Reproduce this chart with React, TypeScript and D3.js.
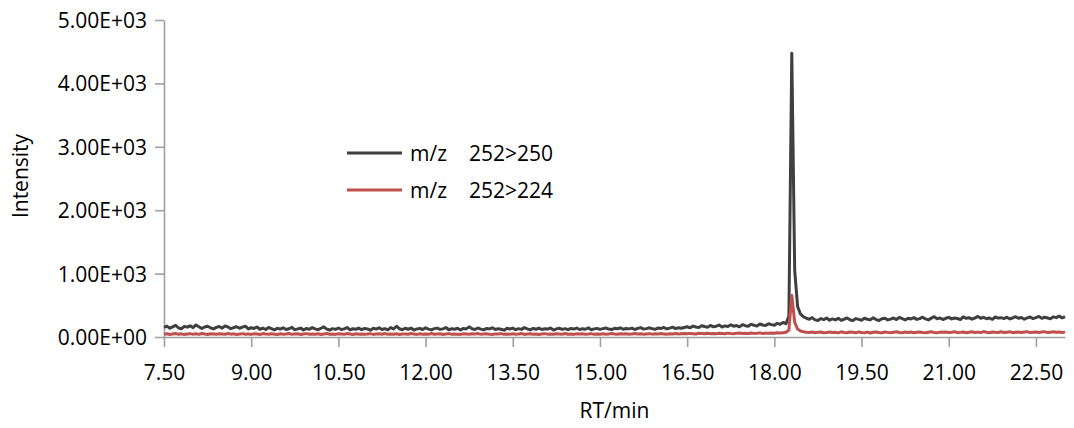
import * as d3 from 'd3'
import { useEffect, useRef } from 'react'

// retention time sampling: 7.50 .. 23.00 min, every 0.05 min
const rtStart = 7.5
const rtStep = 0.05

// m/z 252>250
const seriesA = [
  150,172,138,160,185,142,130,168,155,176,
  148,190,162,135,158,170,145,128,152,166,
  140,175,158,132,149,162,138,155,170,128,
  146,135,158,122,140,118,150,132,112,138,
  125,145,118,130,152,115,128,140,110,135,
  122,148,128,115,138,160,125,110,132,120,
  142,118,128,150,112,130,122,140,115,135,
  128,108,138,125,145,118,132,112,148,126,
  170,130,115,138,122,140,110,128,135,118,
  145,125,112,132,140,120,128,150,115,130,
  122,138,110,135,128,160,130,118,142,125,
  112,135,128,145,118,130,122,108,138,126,
  140,115,132,120,148,128,112,135,122,140,
  118,130,125,142,110,128,138,120,132,115,
  135,125,140,118,130,122,145,115,128,136,
  120,132,142,125,118,138,130,145,122,135,
  128,140,118,136,148,125,132,145,130,122,
  142,135,150,128,140,155,132,146,138,150,
  162,145,172,158,150,178,165,155,182,160,
  170,188,158,175,165,192,170,180,160,195,
  178,168,200,185,172,205,190,180,210,195,
  185,215,200,230,210,
  330,4475,1050,480,360,320,
  295,280,305,270,260,290,275,300,265,
  285,270,295,262,280,300,272,258,290,278,
  265,295,280,270,302,275,260,288,296,270,
  282,300,275,310,290,268,295,285,305,278,
  290,312,285,270,298,320,288,300,276,295,
  310,285,300,292,275,318,295,305,282,300,
  325,295,310,288,300,278,315,298,305,290,
  312,285,300,320,295,308,280,302,315,290,
  305,325,295,312,300,288,318,305,330,300,322,
]

// m/z 252>224
const seriesB = [
  45,52,40,48,55,42,50,38,47,53,
  44,50,41,56,46,39,52,48,43,50,
  47,42,55,45,50,38,48,53,44,49,
  41,52,46,40,54,47,43,50,45,38,
  51,44,48,55,42,47,50,40,46,53,
  43,49,45,52,39,48,54,44,47,41,
  50,46,42,55,48,40,52,45,49,43,
  47,53,41,46,50,44,55,42,48,45,
  52,40,47,49,43,54,46,41,50,45,
  48,42,55,44,47,51,39,46,53,44,
  49,45,41,52,47,43,50,46,54,42,
  47,51,44,40,49,46,53,42,48,45,
  50,43,47,55,41,46,52,44,48,40,
  46,53,45,49,42,51,47,44,55,43,
  48,41,50,46,52,44,47,53,42,49,
  45,51,43,48,54,46,42,50,47,52,
  44,49,55,46,51,43,48,53,45,50,
  47,54,49,44,52,48,56,46,51,55,
  50,57,52,48,58,54,50,60,53,56,
  52,59,55,50,61,56,53,58,62,55,
  60,54,63,57,59,65,56,61,58,64,
  60,66,62,68,75,
  110,660,230,125,95,82,
  75,70,80,68,74,78,66,72,80,
  70,76,65,82,72,68,78,74,66,80,
  72,68,77,64,75,80,70,66,78,73,
  68,75,82,70,66,78,72,80,68,74,
  79,70,66,76,82,72,68,77,74,80,
  70,75,84,68,73,79,66,76,82,71,
  77,70,86,74,68,80,75,72,83,70,
  76,82,68,74,80,72,78,85,70,76,
  80,72,78,84,70,76,82,74,79,71,77,
]

const seriesNames = ['m/z', 'm/z']
const seriesIons = ['252>250', '252>224']
const seriesColors = ['#3f3f3f', '#c0504d']

const xTicks = [7.5, 9, 10.5, 12, 13.5, 15, 16.5, 18, 19.5, 21, 22.5]
const yTicks = [0, 1000, 2000, 3000, 4000, 5000]
const yTickLabels = ['0.00E+00', '1.00E+03', '2.00E+03', '3.00E+03', '4.00E+03', '5.00E+03']

const W = 1074
const H = 428
const font = '"Open Sans", sans-serif'

export default function App() {
  const svgRef = useRef<SVGSVGElement>(null)

  useEffect(() => {
    const svg = d3.select(svgRef.current)
    svg.selectAll('*').remove()

    const x = d3.scaleLinear().domain([7.5, 23.0]).range([164, 1065])
    const y = d3.scaleLinear().domain([0, 5000]).range([337, 20])

    // y axis
    const gy = svg.append('g')
      .attr('transform', `translate(${x.range()[0]},0)`)
      .call(d3.axisLeft(y).tickValues(yTicks).tickSize(9).tickSizeOuter(0)
        .tickPadding(8).tickFormat((_, i) => yTickLabels[i]))
    gy.selectAll('text').attr('font-size', 21).attr('font-family', font).attr('fill', '#000').attr('dy', '0.36em')

    // x axis
    const gx = svg.append('g')
      .attr('transform', `translate(0,${y(0)})`)
      .call(d3.axisBottom(x).tickValues(xTicks).tickSize(10).tickSizeOuter(0)
        .tickFormat(d3.format('.2f') as any))
    gx.selectAll('text').attr('font-size', 21).attr('font-family', font).attr('fill', '#000')
      .attr('dy', null).attr('y', 43)

    svg.selectAll('.domain, .tick line').attr('stroke', '#a0a0a0').attr('stroke-width', 1.6)

    // traces
    const line = d3.line<number>()
      .x((_, i) => x(rtStart + rtStep * i))
      .y((d) => y(d))

    ;[seriesA, seriesB].forEach((s, k) => {
      svg.append('path')
        .datum(s)
        .attr('d', line)
        .attr('fill', 'none')
        .attr('stroke', seriesColors[k])
        .attr('stroke-width', 3)
        .attr('stroke-linejoin', 'round')
    })

    // legend
    seriesNames.forEach((name, k) => {
      const ly = 153 + k * 37
      svg.append('line')
        .attr('x1', 347).attr('x2', 402).attr('y1', ly).attr('y2', ly)
        .attr('stroke', seriesColors[k]).attr('stroke-width', 3)
      const t = svg.append('text')
        .attr('x', 410).attr('y', ly + 8)
        .attr('font-size', 21).attr('font-family', font).attr('fill', '#000')
      t.append('tspan').text(name)
      t.append('tspan').attr('x', 469).text(seriesIons[k])
    })

    // axis titles
    svg.append('text')
      .attr('x', (x.range()[0] + x.range()[1]) / 2).attr('y', 418)
      .attr('text-anchor', 'middle')
      .attr('font-size', 21).attr('font-family', font).attr('fill', '#000')
      .text('RT/min')

    svg.append('text')
      .attr('transform', 'translate(28,176) rotate(-90)')
      .attr('text-anchor', 'middle')
      .attr('font-size', 21).attr('font-family', font).attr('fill', '#000')
      .text('Intensity')
  }, [])

  return (
    <svg ref={svgRef} width={W} height={H}
      style={{ position: 'absolute', left: 0, top: 0, background: '#fff' }} />
  )
}
